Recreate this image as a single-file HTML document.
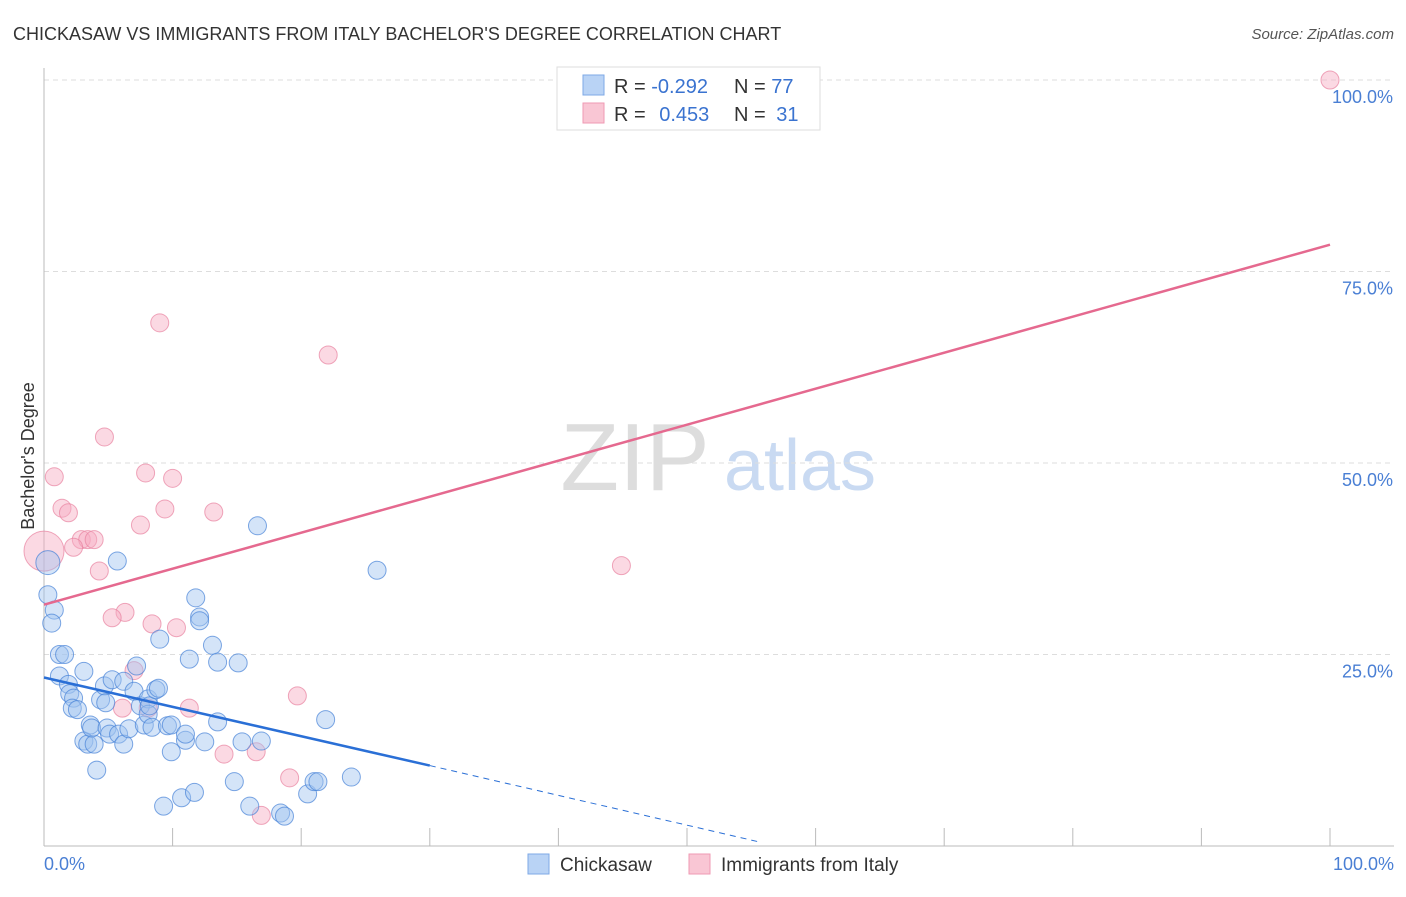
<!DOCTYPE html>
<html><head><meta charset="utf-8">
<style>
body{margin:0;background:#fff;font-family:"Liberation Sans",sans-serif;}
svg text{font-family:"Liberation Sans",sans-serif;}
</style></head>
<body>
<svg id="chart" width="1406" height="892" xmlns="http://www.w3.org/2000/svg">
<text x="13" y="40" font-size="18" fill="#333">CHICKASAW VS IMMIGRANTS FROM ITALY BACHELOR'S DEGREE CORRELATION CHART</text>
<text x="1394" y="39" font-size="15" fill="#555" text-anchor="end" font-style="italic">Source: ZipAtlas.com</text>
<text transform="translate(34,456) rotate(-90)" font-size="18" fill="#333" text-anchor="middle">Bachelor's Degree</text>
<g>
<text x="635" y="490" font-size="96" fill="#ddd" text-anchor="middle" font-family="Liberation Serif">ZIP</text>
<text x="800" y="490" font-size="72" fill="#c9daf2" text-anchor="middle">atlas</text>
</g>
<g id="grid"></g><g id="axes"></g><g id="marks"></g>
<g>
<rect x="557" y="67" width="263" height="63" fill="#fff" stroke="#ddd"/>
<rect x="583" y="75" width="21" height="20" fill="#b9d3f5" stroke="#7ea8e6"/>
<rect x="583" y="103" width="21" height="20" fill="#f9c6d4" stroke="#ef9ab3"/>
<text x="614" y="93" font-size="20" fill="#333">R = <tspan fill="#3a73d0">-0.292</tspan></text>
<text x="734" y="93" font-size="20" fill="#333">N = <tspan fill="#3a73d0">77</tspan></text>
<text x="614" y="121" font-size="20" fill="#333">R = <tspan fill="#3a73d0" dx="8">0.453</tspan></text>
<text x="734" y="121" font-size="20" fill="#333">N = <tspan fill="#3a73d0" dx="5">31</tspan></text>
</g>
<g>
<rect x="528" y="854" width="21" height="20" fill="#b9d3f5" stroke="#7ea8e6"/>
<text x="560" y="871" font-size="19" fill="#333">Chickasaw</text>
<rect x="689" y="854" width="21" height="20" fill="#f9c6d4" stroke="#ef9ab3"/>
<text x="721" y="871" font-size="19" fill="#333">Immigrants from Italy</text>
</g>
</svg>
<script>
const yTicks=[25,50,75,100];
const yTickLabels=["25.0%","50.0%","75.0%","100.0%"];
const xTicks=[0,10,20,30,40,50,60,70,80,90,100];
const blueX=[0.3,0.3,0.8,0.6,1.2,1.6,1.2,1.9,2.0,2.3,2.2,2.6,3.1,3.1,3.4,3.9,3.6,3.7,4.1,4.4,4.7,4.8,4.9,5.1,5.3,5.7,5.8,6.2,6.2,6.6,7.0,7.2,7.5,7.8,8.1,8.1,8.2,8.4,8.7,8.9,9.0,9.3,9.6,9.9,9.9,10.7,11.0,11.0,11.3,11.7,11.8,12.1,12.1,12.5,13.1,13.5,13.5,14.8,15.1,15.4,16.0,16.6,16.9,18.4,18.7,20.5,21.0,21.3,21.9,23.9,25.9];
const blueY=[37.0,32.8,30.8,29.1,25.0,25.0,22.2,21.1,19.9,19.3,18.0,17.8,22.8,13.7,13.3,13.3,15.8,15.4,9.9,19.1,20.9,18.7,15.4,14.6,21.7,37.2,14.6,13.3,21.5,15.3,20.2,23.5,18.3,15.8,19.2,17.2,18.3,15.5,20.4,20.6,27.0,5.2,15.7,15.8,12.3,6.3,13.8,14.6,24.4,7.0,32.4,29.9,29.4,13.6,26.2,24.0,16.2,8.4,23.9,13.6,5.2,41.8,13.7,4.3,3.9,6.8,8.4,8.4,16.5,9.0,36.0];
const pinkX=[4.7,9.0,22.1,0.8,7.9,10.0,1.4,1.9,9.4,13.2,7.5,2.9,3.4,3.9,2.3,0.0,4.3,44.9,6.3,5.3,8.4,10.3,7.0,19.7,11.3,8.1,6.1,14.0,16.5,19.1,16.9,100];
const pinkY=[53.4,68.3,64.1,48.2,48.7,48.0,44.1,43.5,44.0,43.6,41.9,40.0,40.0,40.0,39.0,38.5,35.9,36.6,30.5,29.8,29.0,28.5,22.9,19.6,18.0,18.0,18.0,12.0,12.3,8.9,4.0,100];
const blueSize=Array(blueX.length).fill(10); blueSize[0]=13;
const pinkSize=Array(pinkX.length).fill(9); pinkSize[15]=20;
const blueLine=[[0,22],[30,10.5]], blueDash=[[30,10.5],[55.7,0.5]];
const pinkLine=[[0,31.5],[100,78.5]];
const X=v=>44+v*12.86, Y=v=>846-v*7.66;
const NS="http://www.w3.org/2000/svg";
function mk(p,tag,a){const e=document.createElementNS(NS,tag);for(const k in a)e.setAttribute(k,a[k]);p.appendChild(e);return e;}
const grid=document.getElementById('grid'),axes=document.getElementById('axes'),marks=document.getElementById('marks');
yTicks.forEach((t,i)=>{
 const l=mk(grid,'line',{x1:44,x2:1394,y1:Y(t),y2:Y(t),stroke:'#ddd','stroke-dasharray':'5,4'});
 
 
 const tx=mk(axes,'text',{x:1393,y:Y(t)+23,'font-size':18,fill:'#4a7fd4','text-anchor':'end'});
 tx.textContent=yTickLabels[i];
 
 
});
const ax=mk(axes,'line',{x1:44,x2:44,y1:68,y2:846,stroke:'#bbb'});


const bx=mk(axes,'line',{x1:44,x2:1394,y1:846,y2:846,stroke:'#bbb'});


xTicks.forEach(t=>{
 const l=mk(axes,'line',{x1:X(t),x2:X(t),y1:828,y2:846,stroke:'#bbb'});
 
 
});
const xl=mk(axes,'text',{x:44,y:870,'font-size':18,fill:'#4a7fd4'});xl.textContent='0.0%';


const xr=mk(axes,'text',{x:1394,y:870,'font-size':18,fill:'#4a7fd4','text-anchor':'end'});xr.textContent='100.0%';


pinkX.forEach((v,i)=>{
 const c=mk(marks,'circle',{cx:X(v),cy:Y(pinkY[i]),r:pinkSize[i],fill:'rgba(246,170,192,0.45)',stroke:'rgba(232,130,160,0.7)','stroke-width':1});
 
 
});
blueX.forEach((v,i)=>{
 const c=mk(marks,'circle',{cx:X(v),cy:Y(blueY[i]),r:blueSize[i]-1,fill:'rgba(160,196,240,0.45)',stroke:'rgba(70,130,215,0.7)','stroke-width':1});
 
 
});
const pl=mk(marks,'line',{x1:X(pinkLine[0][0]),y1:Y(pinkLine[0][1]),x2:X(pinkLine[1][0]),y2:Y(pinkLine[1][1]),stroke:'#e5698f','stroke-width':2.5});


const bl=mk(marks,'line',{x1:X(blueLine[0][0]),y1:Y(blueLine[0][1]),x2:X(blueLine[1][0]),y2:Y(blueLine[1][1]),stroke:'#2a6fd6','stroke-width':2.5});


const bd=mk(marks,'line',{x1:X(blueDash[0][0]),y1:Y(blueDash[0][1]),x2:X(blueDash[1][0]),y2:Y(blueDash[1][1]),stroke:'#2a6fd6','stroke-width':1,'stroke-dasharray':'6,5'});


</script>
</body></html>
